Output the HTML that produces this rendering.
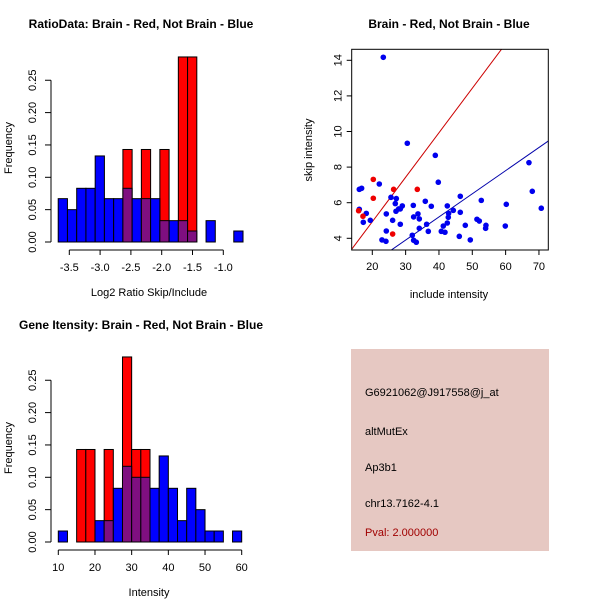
<!DOCTYPE html>
<html><head><meta charset="utf-8"><style>
body{margin:0;background:#fff}
svg text{font-family:"Liberation Sans",sans-serif}
</style></head><body>
<svg id="c" width="600" height="600" xmlns="http://www.w3.org/2000/svg">
<rect width="600" height="600" fill="#fff"/>
<text x="141" y="28" font-size="12" font-weight="bold" text-anchor="middle">RatioData: Brain - Red, Not Brain - Blue</text>
<text x="449" y="28" font-size="12" font-weight="bold" text-anchor="middle">Brain - Red, Not Brain - Blue</text>
<text x="141" y="329" font-size="12" font-weight="bold" text-anchor="middle">Gene Itensity: Brain - Red, Not Brain - Blue</text>
<g id="h1"></g>
<g id="h2"></g>
<g id="sc"></g>
<g>
<rect x="351" y="349" width="198" height="202" fill="#e6c8c2"/>
<text x="365" y="396" font-size="11">G6921062@J917558@j_at</text>
<text x="365" y="435" font-size="11">altMutEx</text>
<text x="365" y="471" font-size="11">Ap3b1</text>
<text x="365" y="507" font-size="11">chr13.7162-4.1</text>
<text x="365" y="536" font-size="11" fill="#a00000">Pval: 2.000000</text>
</g>
</svg>
<script>
const NS="http://www.w3.org/2000/svg";
// Ratio histogram data
const ratioBinStart=-3.68, ratioBinWidth=0.15;
const ratioBlue=[0.067,0.05,0.083,0.083,0.133,0.067,0.067,0.083,0.067,0.067,0.067,0.033,0.033,0.033,0.017,0,0.033,0,0,0.017];
const ratioRed=[0,0,0,0,0,0,0,0.143,0,0.143,0,0.143,0,0.286,0.286,0,0,0,0,0];
const ratioXTicks=[-3.5,-3.0,-2.5,-2.0,-1.5,-1.0];
const freqTicks=[0,0.05,0.10,0.15,0.20,0.25];
// Intensity histogram data
const intBinStart=10, intBinWidth=2.5;
const intBlue=[0.017,0,0,0,0.033,0.033,0.083,0.117,0.1,0.1,0.083,0.133,0.083,0.033,0.083,0.05,0.017,0.017,0,0.017];
const intRed=[0,0,0.143,0.143,0,0.143,0,0.286,0.143,0.143,0,0,0,0,0,0,0,0,0,0];
const intXTicks=[10,20,30,40,50,60];
// Scatter data
const blueX=[23.3,30.5,38.9,39.8,22.1,16.1,16.8,67,68,70.7,25.6,27.2,26.9,27.1,27.9,28.4,29,16.1,18.2,17.3,19.4,24.2,26.1,28.4,24.2,22.9,24.1,32.3,32.4,33.7,34.1,35.9,37.7,36.3,34.1,36.8,32,32.4,33.2,42.5,42.9,42.8,44.3,42.5,41.3,40.7,41.8,46.4,46.4,46.1,47.9,49.4,52.7,51.4,52.1,54.1,54,60.2,59.9];
const blueY=[14.17,9.34,8.66,7.15,7.05,6.75,6.81,8.25,6.64,5.69,6.3,6.23,5.95,5.52,5.65,5.65,5.82,5.63,5.4,4.9,5.01,5.37,5.01,4.79,4.41,3.91,3.83,5.85,5.2,5.37,5.09,6.08,5.8,4.79,4.56,4.39,4.17,3.89,3.78,5.82,5.4,5.18,5.57,4.86,4.69,4.39,4.34,6.36,5.46,4.11,4.73,3.91,6.13,5.07,4.97,4.73,4.56,5.91,4.69];
const redX=[15.9,17.2,20.3,20.3,26.4,33.5,26.1];
const redY=[5.55,5.24,7.31,6.25,6.75,6.75,4.24];
const redSlope=0.25, redIntercept=-0.07;
const blueSlope=0.13, blueIntercept=0;
const scXTicks=[20,30,40,50,60,70];
const scYTicks=[4,6,8,10,12,14];

function el(tag,attrs,parent,text){const e=document.createElementNS(NS,tag);for(const k in attrs)e.setAttribute(k,attrs[k]);if(text!==undefined)e.textContent=text;parent.appendChild(e);return e;}

function hist(g,x0,x1,v0,v1,y0,binStart,binW,blue,red,xTicks,xLabel,xfmt){
  const X=v=>x0+(v-v0)/(v1-v0)*(x1-x0);
  const Y=f=>y0-f*647;
  for(let i=0;i<red.length;i++){if(red[i]>0){const r=el('rect',{x:X(binStart+i*binW),y:Y(red[i]),width:X(binStart+(i+1)*binW)-X(binStart+i*binW),height:y0-Y(red[i]),fill:'#ff0000',stroke:'#000','stroke-width':1},g);
  
  }}
  for(let i=0;i<blue.length;i++){if(blue[i]>0){const b=el('rect',{x:X(binStart+i*binW),y:Y(blue[i]),width:X(binStart+(i+1)*binW)-X(binStart+i*binW),height:y0-Y(blue[i]),fill:red[i]>0?'#7f0f80':'#0000ff',stroke:'#000','stroke-width':1},g);
  
  }}
  const yax=el('g',{},g);
  
  
  el('line',{x1:51,x2:51,y1:Y(0),y2:Y(0.25),stroke:'#000'},yax);
  freqTicks.forEach(t=>{el('line',{x1:45,x2:51,y1:Y(t),y2:Y(t),stroke:'#000'},yax);
    el('text',{x:0,y:0,'font-size':11,'text-anchor':'middle',transform:`translate(${36},${Y(t)}) rotate(-90)`},yax,t.toFixed(2));});
  el('text',{'font-size':11,'text-anchor':'middle',transform:`translate(12,${y0-94}) rotate(-90)`},yax,'Frequency');
  const xax=el('g',{},g);
  
  
  const ay=y0+8;
  el('line',{x1:X(xTicks[0]),x2:X(xTicks[xTicks.length-1]),y1:ay,y2:ay,stroke:'#000'},xax);
  xTicks.forEach(t=>{el('line',{x1:X(t),x2:X(t),y1:ay,y2:ay+5,stroke:'#000'},xax);
    el('text',{x:X(t),y:ay+21,'font-size':11,'text-anchor':'middle'},xax,xfmt(t));});
  el('text',{x:149,y:y0+54,'font-size':11,'text-anchor':'middle'},xax,xLabel);
}
hist(document.getElementById('h1'),69.3,223.3,-3.5,-1.0,242,ratioBinStart,ratioBinWidth,ratioBlue,ratioRed,ratioXTicks,'Log2 Ratio Skip/Include',t=>t.toFixed(1));
hist(document.getElementById('h2'),58.3,241.7,10,60,542,intBinStart,intBinWidth,intBlue,intRed,intXTicks,'Intensity',t=>String(t));

(function(){
  const g=document.getElementById('sc');
  const X=v=>372.3+(v-20)*3.333, Y=v=>238.3-(v-4)*17.8;
  const L=351.7,R=548.3,T=49.3,B=250;
  const cp=el('clipPath',{id:'clipsc'},g);el('rect',{x:L,y:T,width:R-L,height:B-T},cp);
  const lines=el('g',{'clip-path':'url(#clipsc)'},g);
  const xa=10, xb=80;
  const rl=el('line',{x1:X(xa),y1:Y(redSlope*xa+redIntercept),x2:X(xb),y2:Y(redSlope*xb+redIntercept),stroke:'#cc0000','stroke-width':1},lines);
  
  
  const bl=el('line',{x1:X(xa),y1:Y(blueSlope*xa+blueIntercept),x2:X(xb),y2:Y(blueSlope*xb+blueIntercept),stroke:'#0000aa','stroke-width':1},lines);
  
  
  blueX.forEach((x,i)=>{const c=el('circle',{cx:X(x),cy:Y(blueY[i]),r:2.8,fill:'#0000ee'},lines);
    
    });
  redX.forEach((x,i)=>{const c=el('circle',{cx:X(x),cy:Y(redY[i]),r:2.8,fill:'#ee0000'},lines);
    
    });
  el('rect',{x:L,y:T,width:R-L,height:B-T,fill:'none',stroke:'#000'},g);
  const xax=el('g',{},g);
  
  
  scXTicks.forEach(t=>{el('line',{x1:X(t),x2:X(t),y1:B,y2:B+5,stroke:'#000'},xax);
    el('text',{x:X(t),y:B+20,'font-size':11,'text-anchor':'middle'},xax,String(t));});
  el('text',{x:449,y:298,'font-size':11,'text-anchor':'middle'},xax,'include intensity');
  const yax=el('g',{},g);
  
  
  scYTicks.forEach(t=>{el('line',{x1:L-5,x2:L,y1:Y(t),y2:Y(t),stroke:'#000'},yax);
    el('text',{'font-size':11,'text-anchor':'middle',transform:`translate(${L-10},${Y(t)}) rotate(-90)`},yax,String(t));});
  el('text',{'font-size':11,'text-anchor':'middle',transform:`translate(312,150) rotate(-90)`},yax,'skip intensity');
})();
</script>
</body></html>
